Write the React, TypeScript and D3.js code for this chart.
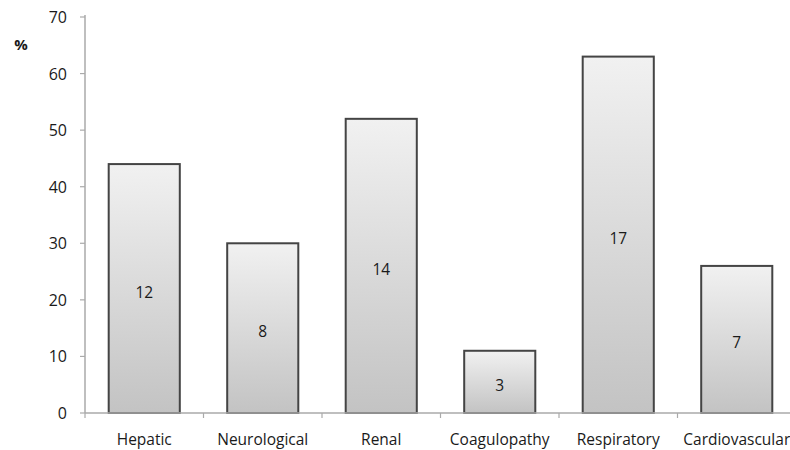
import React from "react";
import * as d3 from "d3";

const categories = ["Hepatic", "Neurological", "Renal", "Coagulopathy", "Respiratory", "Cardiovascular"];
const percents = [44, 30, 52, 11, 63, 26];
const counts = [12, 8, 14, 3, 17, 7];
const yTicks = [0, 10, 20, 30, 40, 50, 60, 70];

const W = 790;
const H = 450;
const left = 85;
const right = 796;
const top = 17;
const bottom = 413;
const font = "'Open Sans', 'DejaVu Sans', sans-serif";
const fs = 15.5;

export default function App() {
  const x = d3.scaleBand<string>().domain(categories).range([left, right]).paddingInner(0.4).paddingOuter(0.2);
  const y = d3.scaleLinear().domain([0, 70]).range([bottom, top]);
  const step = x.step();
  const boundaries = d3.range(categories.length + 1).map((i) => left + i * step);

  return (
    <svg width={W} height={H} style={{ position: "absolute", left: 0, top: 0, background: "#fff" }}>
      <defs>
        <linearGradient id="barGrad" x1="0" y1="0" x2="0" y2="1">
          <stop offset="0%" stopColor="#f1f1f1" />
          <stop offset="100%" stopColor="#c3c3c3" />
        </linearGradient>
      </defs>
      {/* y axis */}
      <line x1={left} x2={left} y1={top - 2} y2={bottom} stroke="#aaa" strokeWidth={1.5} />
      {yTicks.map((t) => (
        <g key={t}>
          <line x1={left - 5} x2={left} y1={y(t)} y2={y(t)} stroke="#aaa" strokeWidth={1.2} />
          <text x={67} y={y(t)} textAnchor="end" dominantBaseline="central" fontFamily={font} fontSize={16} fontWeight={500} fill="#1a1a1a">
            {t}
          </text>
        </g>
      ))}
      <text x={21} y={44} textAnchor="middle" dominantBaseline="central" fontFamily={font} fontSize={15} fontWeight="bold" fill="#1a1a1a">
        %
      </text>
      {/* bars */}
      {categories.map((c, i) => {
        const bx = x(c)!;
        const by = y(percents[i]);
        return (
          <g key={c}>
            <rect x={bx} y={by} width={x.bandwidth()} height={bottom - by} fill="url(#barGrad)" stroke="#444" strokeWidth={2} />
            <text x={bx + x.bandwidth() / 2} y={(by + bottom) / 2 + 3} textAnchor="middle" dominantBaseline="central" fontFamily={font} fontSize={fs} fontWeight={500} fill="#1a1a1a">
              {counts[i]}
            </text>
          </g>
        );
      })}
      {/* x axis */}
      <line x1={left} x2={right} y1={bottom} y2={bottom} stroke="#aaa" strokeWidth={1.5} />
      {boundaries.map((b, i) => (
        <line key={i} x1={b} x2={b} y1={bottom} y2={bottom + 5} stroke="#aaa" strokeWidth={1.2} />
      ))}
      {categories.map((c) => (
        <text key={c} x={x(c)! + x.bandwidth() / 2} y={439} textAnchor="middle" dominantBaseline="central" fontFamily={font} fontSize={fs} fontWeight={500} fill="#1a1a1a">
          {c}
        </text>
      ))}
    </svg>
  );
}
